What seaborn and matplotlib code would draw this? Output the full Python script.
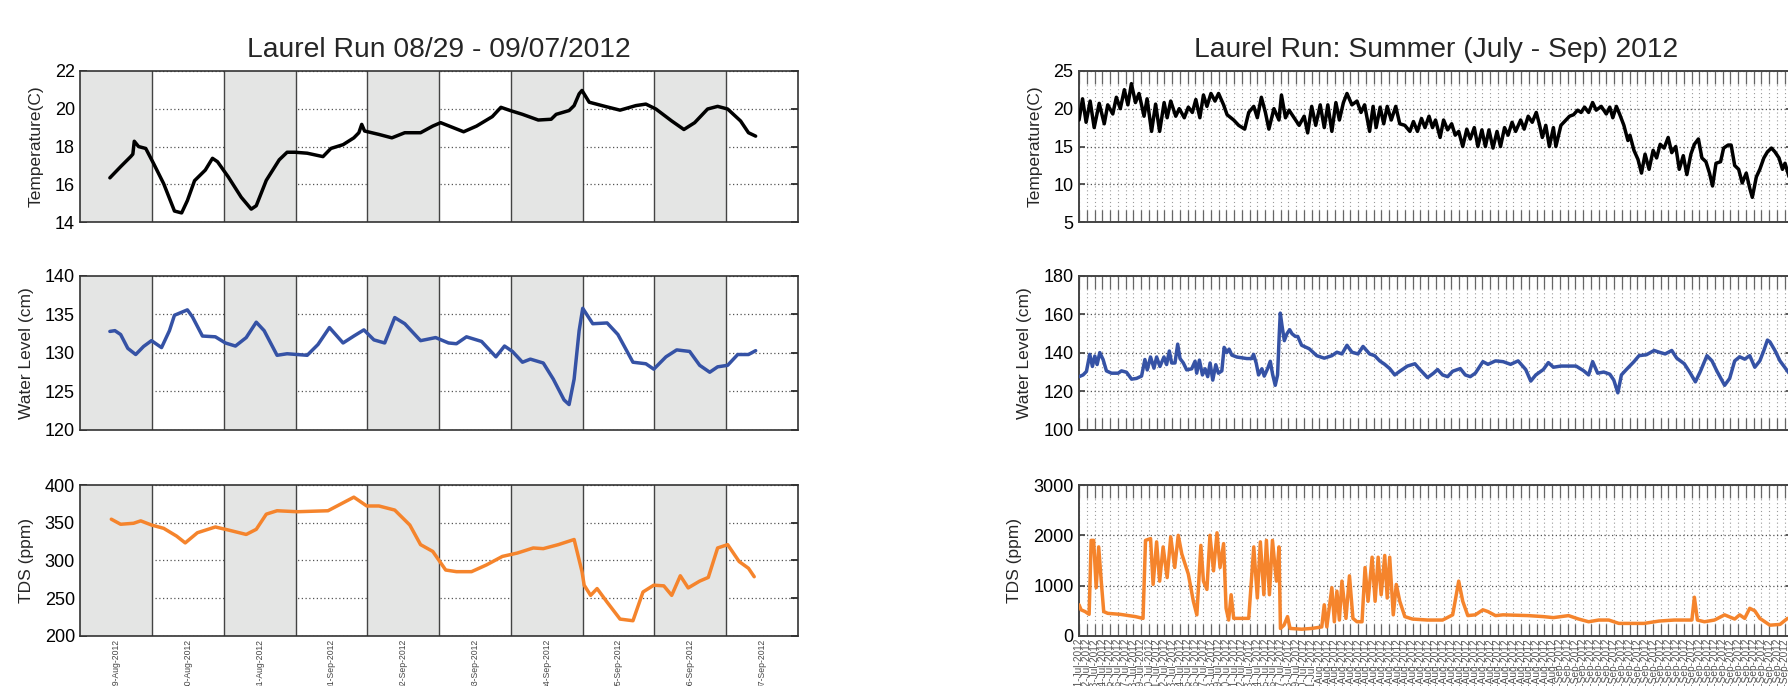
import numpy as np
import pandas as pd
import matplotlib
matplotlib.use("Agg")
import matplotlib.pyplot as plt
import seaborn as sns

# ---------------- data: left panel (days after 29-Aug-2012 00:00) ----------------
wk_labels = ['29-Aug-2012', '30-Aug-2012', '31-Aug-2012', '01-Sep-2012', '02-Sep-2012',
             '03-Sep-2012', '04-Sep-2012', '05-Sep-2012', '06-Sep-2012', '07-Sep-2012']

wk_temp_day = [0.41, 0.56, 0.70, 0.73, 0.75, 0.81, 0.91, 1.02, 1.16, 1.31, 1.41, 1.49, 1.59, 1.74,
               1.84, 1.91, 2.06, 2.24, 2.38, 2.45, 2.59, 2.77, 2.88, 2.99, 3.16, 3.38, 3.49, 3.66,
               3.81, 3.88, 3.92, 3.96, 4.16, 4.34, 4.52, 4.74, 4.91, 5.02, 5.16, 5.34, 5.52, 5.74,
               5.86, 5.99, 6.16, 6.38, 6.56, 6.63, 6.81, 6.88, 6.95, 6.99, 7.09, 7.31, 7.52, 7.74,
               7.88, 8.02, 8.24, 8.41, 8.56, 8.74, 8.88, 9.02, 9.20, 9.31, 9.41]
wk_temp = [16.35, 16.94, 17.47, 17.6, 18.28, 18.0, 17.9, 17.1, 16.04, 14.6, 14.5, 15.15, 16.2, 16.76,
           17.38, 17.2, 16.4, 15.33, 14.7, 14.88, 16.22, 17.3, 17.7, 17.7, 17.65, 17.47, 17.9, 18.1,
           18.46, 18.73, 19.17, 18.82, 18.64, 18.46, 18.73, 18.73, 19.08, 19.26, 19.05, 18.78, 19.08, 19.58,
           20.07, 19.9, 19.7, 19.4, 19.44, 19.7, 19.9, 20.16, 20.78, 20.96, 20.34, 20.12, 19.92, 20.16,
           20.24, 19.98, 19.35, 18.9, 19.26, 19.98, 20.12, 19.98, 19.35, 18.73, 18.55]

wk_level_day = [0.41, 0.48, 0.56, 0.66, 0.77, 0.88, 0.99, 1.13, 1.24, 1.31, 1.49, 1.56, 1.70, 1.88,
                2.02, 2.16, 2.31, 2.45, 2.56, 2.74, 2.88, 3.16, 3.31, 3.47, 3.66, 3.81, 3.95, 4.09,
                4.24, 4.38, 4.52, 4.74, 4.95, 5.13, 5.24, 5.38, 5.59, 5.79, 5.91, 6.02, 6.16, 6.27,
                6.45, 6.59, 6.74, 6.81, 6.88, 6.95, 7.00, 7.14, 7.34, 7.49, 7.70, 7.88, 7.99, 8.16,
                8.31, 8.49, 8.63, 8.77, 8.88, 9.02, 9.16, 9.31, 9.41]
wk_level = [132.8, 132.9, 132.4, 130.6, 129.8, 130.85, 131.6, 130.7, 132.9, 134.9, 135.6, 134.7, 132.2, 132.1,
            131.3, 130.9, 132.0, 134.0, 132.9, 129.7, 129.9, 129.7, 131.1, 133.3, 131.3, 132.2, 133.0, 131.7,
            131.3, 134.6, 133.8, 131.6, 132.0, 131.3, 131.2, 132.1, 131.5, 129.5, 130.9, 130.2, 128.8, 129.2,
            128.7, 126.6, 123.9, 123.3, 126.6, 132.9, 135.8, 133.8, 133.9, 132.4, 128.8, 128.6, 127.9, 129.5,
            130.4, 130.2, 128.4, 127.5, 128.2, 128.4, 129.8, 129.8, 130.3]

wk_tds_day = [0.43, 0.56, 0.74, 0.84, 0.99, 1.16, 1.34, 1.46, 1.63, 1.88, 2.06, 2.31, 2.45, 2.59,
              2.74, 3.02, 3.45, 3.63, 3.81, 3.88, 3.99, 4.16, 4.38, 4.59, 4.74, 4.91, 5.09, 5.24,
              5.45, 5.66, 5.88, 6.09, 6.31, 6.45, 6.66, 6.88, 6.99, 7.02, 7.11, 7.20, 7.34, 7.52,
              7.70, 7.84, 7.99, 8.13, 8.24, 8.36, 8.47, 8.63, 8.75, 8.88, 9.02, 9.18, 9.31, 9.39]
wk_tds = [354.7, 348, 349.3, 352.5, 347, 342.6, 332.3, 323.3, 336.8, 344.4, 340.4, 334.5, 341.3, 361.4,
          365.9, 364.6, 365.9, 374.9, 383.9, 379.4, 372.2, 372.2, 366.8, 347, 321, 312, 287.4, 285.2,
          285.2, 294.2, 305.4, 309.9, 316.6, 315.7, 321, 327.8, 285.2, 267.3, 253.8, 262.8, 244.8, 222.4,
          220.2, 258.3, 267.3, 266.4, 253.8, 279.8, 263.7, 272.7, 277.6, 316.6, 321, 298.6, 289.7, 278.5]

# ---------------- data: right panel (days after 01-Jul-2012 00:00) ----------------
su_temp_day = [0.0, 0.45, 0.91, 1.43, 1.95, 2.6, 3.25, 3.7, 4.35, 4.81,
               5.32, 5.84, 6.3, 6.75, 7.27, 7.73, 8.38, 8.77, 9.35, 9.87,
               10.39, 10.97, 11.36, 11.82, 12.47, 12.92, 13.57, 14.09, 14.61, 15.06,
               15.58, 16.04, 16.49, 17.01, 17.53, 17.99, 18.64, 19.09, 19.94, 20.58,
               21.36, 21.88, 22.53, 22.99, 23.51, 24.03, 24.48, 25.13, 25.78, 26.1,
               26.62, 27.08, 27.73, 28.38, 29.03, 29.48, 30.0, 30.52, 31.1, 31.62,
               32.08, 32.6, 33.12, 33.57, 34.09, 34.55, 35.19, 35.84, 36.36, 36.82,
               37.47, 37.92, 38.31, 38.83, 39.29, 39.74, 40.26, 40.84, 41.36, 42.01,
               42.66, 43.12, 43.64, 44.16, 44.61, 45.13, 45.58, 45.97, 46.56, 47.01,
               47.53, 48.05, 48.51, 48.96, 49.48, 50.0, 50.45, 50.97, 51.43, 51.95,
               52.4, 52.86, 53.38, 53.9, 54.35, 54.87, 55.32, 55.84, 56.3, 56.95,
               57.4, 57.92, 58.44, 58.96, 59.35, 59.74, 60.19, 60.65, 61.17, 61.49,
               62.14, 62.79, 63.25, 63.77, 64.29, 64.74, 65.19, 65.71, 66.23, 66.69,
               67.34, 67.99, 68.44, 68.83, 69.29, 69.74, 70.26, 70.78, 71.04, 71.56,
               72.08, 72.53, 72.99, 73.51, 74.03, 74.48, 74.94, 75.45, 75.97, 76.43,
               76.95, 77.4, 77.92, 78.38, 78.9, 79.35, 79.87, 80.32, 80.84, 81.3,
               81.69, 82.14, 82.73, 83.12, 83.7, 84.09, 84.55, 85.06, 85.52, 86.04,
               86.49, 86.82, 87.34, 87.79, 88.31, 88.77, 89.29, 89.74, 90.26, 90.71,
               91.04, 91.56]
su_temp = [18.5, 21.3, 18.2, 21.0, 17.5, 20.7, 18.0, 20.5, 19.3, 21.5,
           20.0, 22.5, 20.5, 23.3, 20.8, 22.0, 19.0, 21.3, 17.0, 20.6,
           17.0, 20.8, 18.8, 21.0, 19.0, 20.0, 18.8, 20.2, 19.5, 21.2,
           18.8, 21.8, 20.3, 22.0, 21.0, 22.0, 20.5, 19.2, 18.5, 17.8,
           17.3, 19.5, 20.3, 18.8, 21.5, 19.5, 17.3, 20.0, 18.5, 21.8,
           18.8, 19.8, 18.8, 17.8, 19.0, 16.8, 20.3, 17.8, 20.5, 17.5,
           20.5, 17.0, 20.8, 18.5, 20.8, 22.0, 20.5, 21.0, 19.5, 20.5,
           17.0, 20.3, 17.5, 20.2, 18.0, 20.3, 18.5, 20.3, 18.0, 17.8,
           17.0, 18.3, 17.0, 18.7, 17.5, 19.0, 17.5, 18.5, 16.2, 18.5,
           17.2, 18.0, 16.5, 17.0, 15.0, 17.3, 16.0, 17.5, 15.0, 17.2,
           15.0, 17.2, 14.8, 17.0, 15.0, 17.5, 16.5, 18.2, 17.0, 18.5,
           17.3, 19.0, 18.2, 19.5, 18.0, 16.2, 17.8, 15.0, 17.5, 15.0,
           17.8, 18.5, 19.0, 19.2, 19.8, 19.5, 20.2, 19.5, 20.8, 19.8,
           20.3, 19.3, 20.2, 18.8, 20.3, 19.2, 17.8, 15.8, 16.5, 14.5,
           13.3, 11.5, 14.0, 12.0, 14.5, 13.5, 15.3, 14.8, 16.2, 14.2,
           15.0, 12.0, 13.8, 11.3, 14.0, 15.3, 16.0, 13.5, 13.0, 11.5,
           9.8, 12.8, 13.0, 14.8, 15.2, 15.2, 12.5, 12.0, 10.2, 11.5,
           9.5, 8.3, 11.0, 12.0, 13.5, 14.3, 14.8, 14.3, 13.5, 12.0,
           12.8, 11.0]

su_level_day = [0.0, 0.52, 0.95, 1.38, 1.72, 2.03, 2.33, 2.67, 3.1, 3.53, 4.18, 5.04, 5.47, 6.12,
                6.77, 7.41, 8.06, 8.49, 8.79, 9.22, 9.66, 10.0, 10.43, 10.95, 11.29, 11.64, 11.94,
                12.37, 12.72, 13.02, 13.45, 13.88, 14.53, 14.96, 15.17, 15.52, 15.91, 16.25, 16.59,
                16.9, 17.24, 17.63, 17.97, 18.41, 18.71, 19.05, 19.35, 19.7, 20.34, 20.99, 21.64,
                22.28, 22.5, 22.84, 23.15, 23.58, 23.88, 24.31, 24.66, 24.96, 25.3, 25.6, 25.82,
                25.95, 26.16, 26.47, 26.81, 27.16, 27.46, 27.89, 28.2,
                28.7, 29.68, 30.65, 31.62, 32.6, 33.25, 33.9, 34.55, 35.19, 35.97, 36.62, 37.47,
                38.12, 38.77, 39.42, 40.06, 40.71, 41.36, 42.34, 43.31, 43.96, 44.94, 45.71, 46.23,
                46.88, 47.53, 48.18, 49.16, 49.81, 50.45, 51.1, 52.08, 52.73, 53.7, 54.68, 55.65,
                56.62, 57.6, 58.25, 58.9, 59.87, 60.52, 61.17, 62.14, 63.12, 64.09, 65.06, 65.71,
                66.23, 66.88, 67.66, 68.44, 68.96, 69.48, 69.94, 70.58, 71.56, 72.21, 73.18, 74.16,
                74.81, 75.58, 76.43, 77.08, 78.05, 78.83, 79.48, 80.13, 80.97, 81.62, 82.27, 83.25,
                83.9, 84.55, 85.19, 85.84, 86.49, 87.14, 87.79, 88.31, 88.77, 89.09, 89.74, 90.39,
                91.04, 91.56]
su_level = [127.7, 128.6, 130.4, 139.3, 133.0, 138.4, 134.0, 140.2, 136.6, 130.7, 129.5, 129.5, 130.7, 130.0,
            126.4, 126.8, 128.0, 136.6, 131.2, 137.9, 132.1, 137.9, 133.0, 137.9, 134.0, 141.0, 134.8,
            134.8, 144.6, 137.1, 134.8, 131.2, 131.8, 135.7, 129.5, 136.3, 128.6, 131.8, 127.7,
            134.8, 125.9, 133.9, 129.5, 130.7, 142.9, 140.2, 142.0, 138.9, 137.9, 137.5, 137.1,
            137.1, 139.3, 134.8, 128.6, 131.8, 128.0, 131.8, 135.7, 128.9, 123.2, 128.6, 150.0,
            160.7, 154.5, 146.4, 150.0, 152.1, 150.0, 148.6, 148.6,
            144.0, 142.2, 138.6, 137.3, 138.6, 140.4, 139.5, 144.0, 140.4, 139.5, 143.4, 139.5,
            138.6, 135.9, 134.1, 131.9, 128.6, 130.5, 133.2, 134.4, 131.4, 127.2, 129.5, 131.4,
            128.6, 127.7, 130.5, 131.9, 128.6, 127.7, 129.5, 135.5, 134.1, 135.9, 135.5, 134.1,
            135.9, 131.4, 125.4, 128.6, 131.4, 135.0, 132.6, 133.2, 133.2, 133.2, 130.8, 128.6,
            135.5, 129.5, 130.1, 129.0, 125.9, 119.3, 128.6, 131.4, 135.5, 138.6, 139.1, 141.3,
            140.4, 139.5, 141.3, 137.3, 134.4, 129.5, 125.0, 130.5, 138.6, 135.9, 130.5, 123.2,
            126.8, 135.9, 138.0, 136.8, 138.6, 132.6, 135.9, 141.3, 146.7, 145.8, 141.3, 135.9,
            132.3, 129.5]

su_tds_day = [0.0, 0.26, 0.78, 1.3, 1.56, 1.88, 2.21, 2.53, 2.86, 3.18, 3.7, 5.32, 7.27, 8.25,
              8.57, 9.22, 9.55, 10.0, 10.39, 10.84, 11.36, 11.82, 12.34, 12.79, 13.25, 14.09, 14.74,
              15.19, 15.71, 16.04, 16.49, 16.88, 17.34, 17.79, 18.18, 18.64, 18.96, 19.29, 19.61,
              19.94, 20.91, 21.88, 22.53, 22.99, 23.38, 23.83, 24.16, 24.55, 24.94, 25.45, 25.78,
              25.97, 26.43, 26.88, 27.21, 28.7, 30.0, 31.3, 31.62, 31.95, 32.6, 32.92, 33.25, 33.57,
              33.9, 34.42, 34.87, 35.32, 35.84, 36.49, 36.88, 37.27, 37.79, 38.18, 38.57, 38.96,
              39.42, 39.74, 40.06, 40.52, 40.91, 41.36, 42.01, 42.99, 44.94, 46.88, 48.18, 48.96,
              49.48, 50.13, 51.1, 52.08, 52.73, 53.7, 54.68, 57.92, 59.87, 61.17, 63.12, 64.42,
              65.71, 67.01, 68.31, 69.61, 70.91, 72.86, 74.81, 76.75, 79.03, 79.35, 79.74, 80.65,
              81.95, 83.25, 84.55, 85.19, 85.84, 86.49, 87.14, 87.79, 88.44, 89.09, 90.39, 91.36]
su_tds = [620, 520, 485, 430, 1900, 1900, 960, 1770, 1090, 485, 450, 430, 385, 350,
          1900, 1935, 1025, 1870, 1090, 1770, 1160, 1970, 1360, 2000, 1630, 1230, 690,
          420, 1800, 1090, 925, 2000, 1295, 2050, 1360, 1835, 550, 317, 820,
          350, 350, 350, 1770, 755, 1870, 820, 1900, 820, 1900, 1090, 1770,
          150, 215, 385, 150, 135, 150, 180, 620, 180, 960, 283, 890, 317,
          1090, 350, 1195, 350, 283, 283, 1360, 690, 1565, 690, 1565, 820,
          1600, 755, 1565, 420, 1025, 690, 385, 337, 317, 317, 420, 1090,
          690, 405, 420, 520, 485, 405, 420, 405, 385, 365, 405, 337,
          283, 317, 317, 250, 250, 250, 297, 317, 317, 770, 317, 283,
          317, 420, 337, 420, 350, 550, 500, 350, 283, 215, 230, 350]

su_labels = list(pd.date_range('2012-07-01', '2012-09-30', freq='D').strftime('%d-%b-%Y'))

# ---------------- styling ----------------
sns.set_theme(style="white")
plt.rcParams['font.family'] = ['Liberation Sans', 'DejaVu Sans']

BLACK = '#000000'
BLUE = '#3552a5'
ORANGE = '#f5842c'
BAND = '#e4e5e4'

fig = plt.figure(figsize=(17.88, 6.86), dpi=100)

rows = [(0.6758, 0.2211), (0.3732, 0.2245), (0.0729, 0.2201)]
LX, LW = 0.045, 0.4013
RX, RW = 0.6035, 0.3990

left_specs = [
    (wk_temp_day, wk_temp, BLACK, 'Temperature(C)', (14, 22), [14, 16, 18, 20, 22]),
    (wk_level_day, wk_level, BLUE, 'Water Level (cm)', (120, 140), [120, 125, 130, 135, 140]),
    (wk_tds_day, wk_tds, ORANGE, 'TDS (ppm)', (200, 400), [200, 250, 300, 350, 400]),
]
right_specs = [
    (su_temp_day, su_temp, BLACK, 'Temperature(C)', (5, 25), [5, 10, 15, 20, 25]),
    (su_level_day, su_level, BLUE, 'Water Level (cm)', (100, 180), [100, 120, 140, 160, 180]),
    (su_tds_day, su_tds, ORANGE, 'TDS (ppm)', (0, 3000), [0, 1000, 2000, 3000]),
]

for i, (xs, ys, col, lab, ylim, yt) in enumerate(left_specs):
    b, h = rows[i]
    ax = fig.add_axes([LX, b, LW, h])
    ax.set_axisbelow(True)
    for d in range(0, 10, 2):
        ax.axvspan(d, d + 1, color=BAND, lw=0, zorder=1)
    for d in range(1, 10):
        ax.axvline(d, color='#444444', lw=1.0, zorder=1.5)
    df = pd.DataFrame({'x': xs, 'y': ys})
    sns.lineplot(data=df, x='x', y='y', ax=ax, color=col, linewidth=2.5, zorder=3, sort=False)
    ax.set_xlim(0, 10)
    ax.set_ylim(*ylim)
    ax.set_yticks(yt)
    ax.yaxis.grid(True, linestyle=(0, (1, 2)), color='#555555', lw=0.9)
    ax.xaxis.grid(False)
    ax.set_xticks([d + 0.5 for d in range(10)])
    ax.tick_params(axis='y', direction='in', length=5, left=True, right=True,
                   labelsize=13, colors='#222222', labelcolor='black', pad=4)
    ax.tick_params(axis='x', length=0)
    if i == 2:
        ax.set_xticklabels(wk_labels, rotation=90, fontsize=6.2, color='#444444')
        ax.tick_params(axis='x', pad=2)
    else:
        ax.set_xticklabels([])
    ax.set_xlabel('')
    ax.set_ylabel(lab, fontsize=12.5, labelpad=8)
    for s in ax.spines.values():
        s.set_color('#333333')
        s.set_linewidth(1.2)
    if i == 0:
        ax.set_title('Laurel Run 08/29 - 09/07/2012', fontsize=20.3, pad=10)

for i, (xs, ys, col, lab, ylim, yt) in enumerate(right_specs):
    b, h = rows[i]
    ax = fig.add_axes([RX, b, RW, h])
    ax.set_axisbelow(True)
    df = pd.DataFrame({'x': xs, 'y': ys})
    sns.lineplot(data=df, x='x', y='y', ax=ax, color=col, linewidth=2.5, zorder=3, sort=False)
    ax.set_xlim(0, 92)
    ax.set_ylim(*ylim)
    ax.set_yticks(yt)
    ax.set_xticks(range(len(su_labels)))
    ax.xaxis.grid(True, linestyle=(0, (1, 2.5)), color='#9a9a9a', lw=0.8)
    ax.yaxis.grid(True, linestyle=(0, (1, 2)), color='#555555', lw=0.9)
    ax.tick_params(axis='x', direction='in', length=9, width=0.9, color='#666666',
                   top=True, bottom=True)
    ax.tick_params(axis='y', direction='in', length=4, left=True, right=True,
                   labelsize=13, labelcolor='black', color='#444444', pad=4)
    if i == 2:
        ax.set_xticklabels(su_labels, rotation=90, fontsize=7.3, color='#555555')
        ax.tick_params(axis='x', pad=1.5)
    else:
        ax.set_xticklabels([])
    ax.set_xlabel('')
    ax.set_ylabel(lab, fontsize=12.5, labelpad=8)
    for s in ax.spines.values():
        s.set_color('#444444')
        s.set_linewidth(1.4)
    if i == 0:
        ax.set_title('Laurel Run: Summer (July - Sep) 2012', fontsize=20.3, pad=10)

fig.savefig('out.png', dpi=100)
